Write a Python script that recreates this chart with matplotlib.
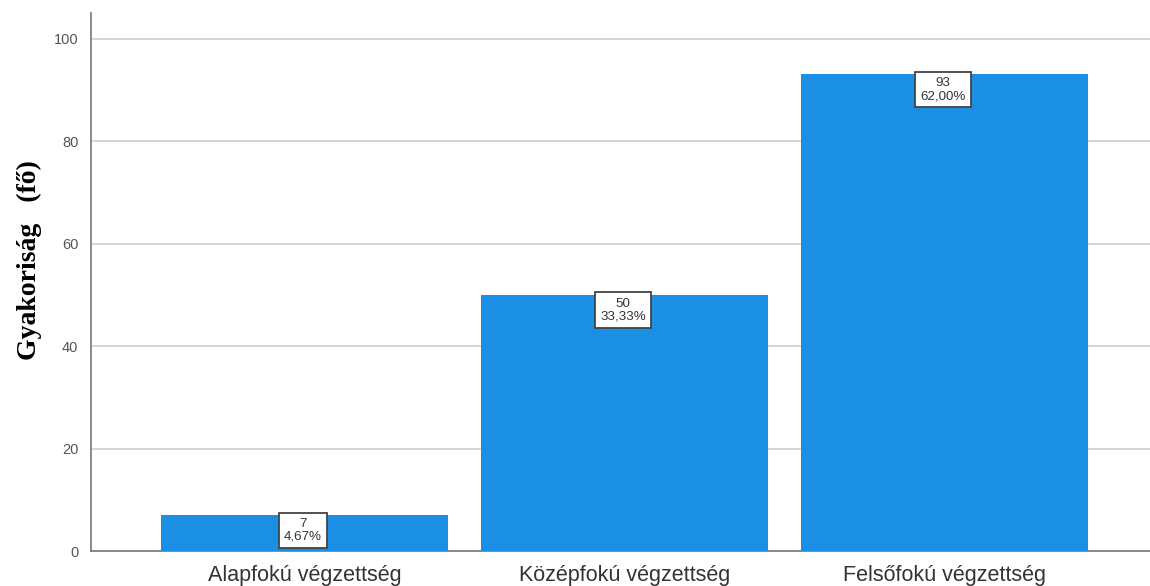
import matplotlib
matplotlib.use("Agg")
from matplotlib import pyplot as plt

categories = ["Alapfokú végzettség", "Középfokú végzettség", "Felsőfokú végzettség"]
counts = [7, 50, 93]
percents = ["4,67%", "33,33%", "62,00%"]

plt.rcParams["font.family"] = ["Liberation Sans", "DejaVu Sans"]

fig = plt.figure(figsize=(11.5, 5.86), dpi=100)
ax = fig.add_axes([0.0791, 0.0597, 0.9209, 0.9183])

x = list(range(len(categories)))
bars = ax.bar(x, counts, width=0.897, color="#1a8fe3", zorder=3)

# value boxes hanging from the top of each bar
for xi, c, p in zip(x, counts, percents):
    ax.annotate(f"{c}\n{p}", xy=(xi, c), xytext=(-1, -2), textcoords="offset points",
                ha="center", va="top", fontsize=9.6, color="#333333", linespacing=1.1,
                bbox=dict(boxstyle="square,pad=0.38", fc="white", ec="#444444", lw=1.3),
                zorder=5)

ax.set_xlim(-0.667, 2.642)
ax.set_ylim(0, 105)
ax.set_yticks([0, 20, 40, 60, 80, 100])
ax.set_xticks(x)
ax.set_xticklabels(categories, fontsize=15.5, color="#333333")
ax.tick_params(axis="y", labelsize=10.5, labelcolor="#555555", length=0, pad=9)
ax.tick_params(axis="x", length=0, pad=10)

ax.grid(axis="y", color="#d0d0d0", linewidth=1.2, zorder=0)
for s in ["top", "right"]:
    ax.spines[s].set_visible(False)
for s in ["left", "bottom"]:
    ax.spines[s].set_color("#777777")
    ax.spines[s].set_linewidth(1.2)

ax.set_ylabel("Gyakoriság   (fő)", fontsize=20, fontweight="bold",
              family="Liberation Serif")
ax.yaxis.set_label_coords(-0.046, 0.54)

fig.savefig("out.png", dpi=100)
